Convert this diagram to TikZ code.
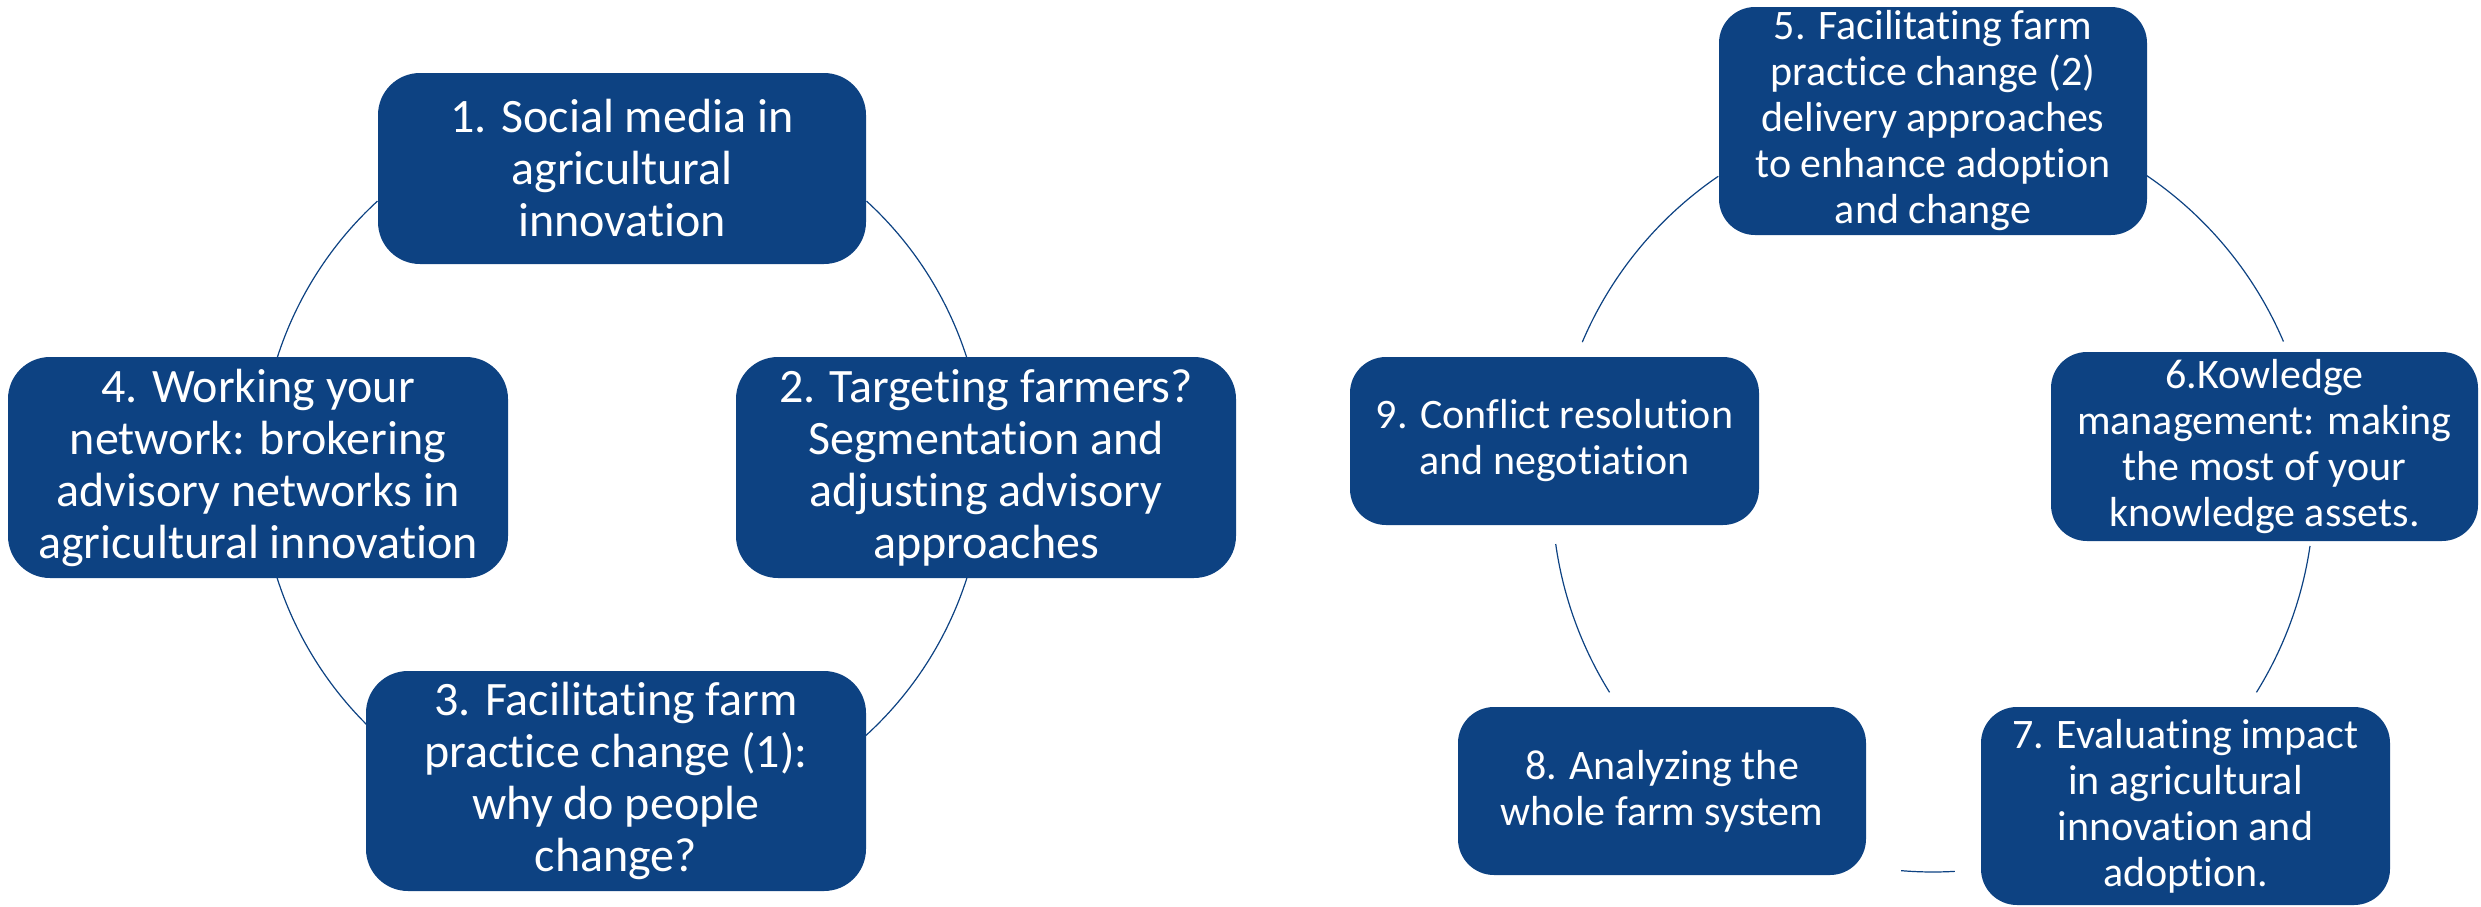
\documentclass[tikz,border=0pt]{standalone}
\usepackage{fontspec}
\setmainfont{Carlito}[Ligatures=NoCommon]
\definecolor{boxblue}{RGB}{13,66,130}
\begin{document}
\begin{tikzpicture}[x=0.5pt,y=-0.5pt,
  topic/.style={draw=none, fill=boxblue, text=white, rounded corners=21pt,
    inner sep=0pt, align=center, font=\fontsize{24}{26}\selectfont},
  topicsm/.style={topic, rounded corners=18pt, font=\fontsize{21}{23}\selectfont},
  ring/.style={draw=boxblue, line width=0.6pt}]
\useasboundingbox (0,0) rectangle (2481,906);

% centres of the two cycles
\coordinate (cl) at (622,468);
\coordinate (cr) at (1933,491);

% left cycle arcs
\draw[ring] ([shift={(-47.5:362)}]cl) arc[start angle=-47.5, end angle=-17.85, radius=362];
\draw[ring] ([shift={(17.7:362)}]cl) arc[start angle=17.7, end angle=47.9, radius=362];
\draw[ring] ([shift={(134.9:362)}]cl) arc[start angle=134.9, end angle=162.3, radius=362];
\draw[ring] ([shift={(197.7:362)}]cl) arc[start angle=197.7, end angle=227.5, radius=362];

% right cycle arcs
\draw[ring] ([shift={(-56:381)}]cr) arc[start angle=-56, end angle=-23.1, radius=381];
\draw[ring] ([shift={(8.3:381)}]cr) arc[start angle=8.3, end angle=31.9, radius=381];
\draw[ring] ([shift={(86.7:381)}]cr) arc[start angle=86.7, end angle=94.8, radius=381];
\draw[ring] ([shift={(148.1:381)}]cr) arc[start angle=148.1, end angle=172, radius=381];
\draw[ring] ([shift={(203:381)}]cr) arc[start angle=203, end angle=235.7, radius=381];

% left cycle topics
\node[topic, minimum width=244pt, minimum height=95.5pt] (b1) at (622,168.5)
  {1. Social media in\\agricultural\\innovation};
\node[topic, minimum width=250pt, minimum height=110.5pt] (b2) at (986,467.5)
  {2. Targeting farmers?\\Segmentation and\\adjusting advisory\\approaches};
\node[topic, minimum width=250pt, minimum height=110pt] (b3) at (616,781)
  {3. Facilitating farm\\practice change (1):\\why do people\\change?};
\node[topic, minimum width=250pt, minimum height=110.5pt] (b4) at (258,467.5)
  {4. Working your\\network: brokering\\advisory networks in\\agricultural innovation};

% right cycle topics
\node[topicsm, minimum width=214pt, minimum height=114pt] (b5) at (1933,121)
  {5. Facilitating farm\\practice change (2)\\delivery approaches\\to enhance adoption\\and change};
\node[topicsm, minimum width=213.5pt, minimum height=94.5pt] (b6) at (2264.5,446.5)
  {6.Kowledge\\management: making\\the most of your\\knowledge assets.};
\node[topicsm, minimum width=204.5pt, minimum height=99pt] (b7) at (2185.5,806)
  {7. Evaluating impact\\in agricultural\\innovation and\\adoption.};
\node[topicsm, minimum width=204pt, minimum height=84pt] (b8) at (1662,791)
  {8. Analyzing the\\whole farm system};
\node[topicsm, minimum width=204.5pt, minimum height=84pt] (b9) at (1554.5,441)
  {9. Conflict resolution\\and negotiation};
\end{tikzpicture}
\end{document}
